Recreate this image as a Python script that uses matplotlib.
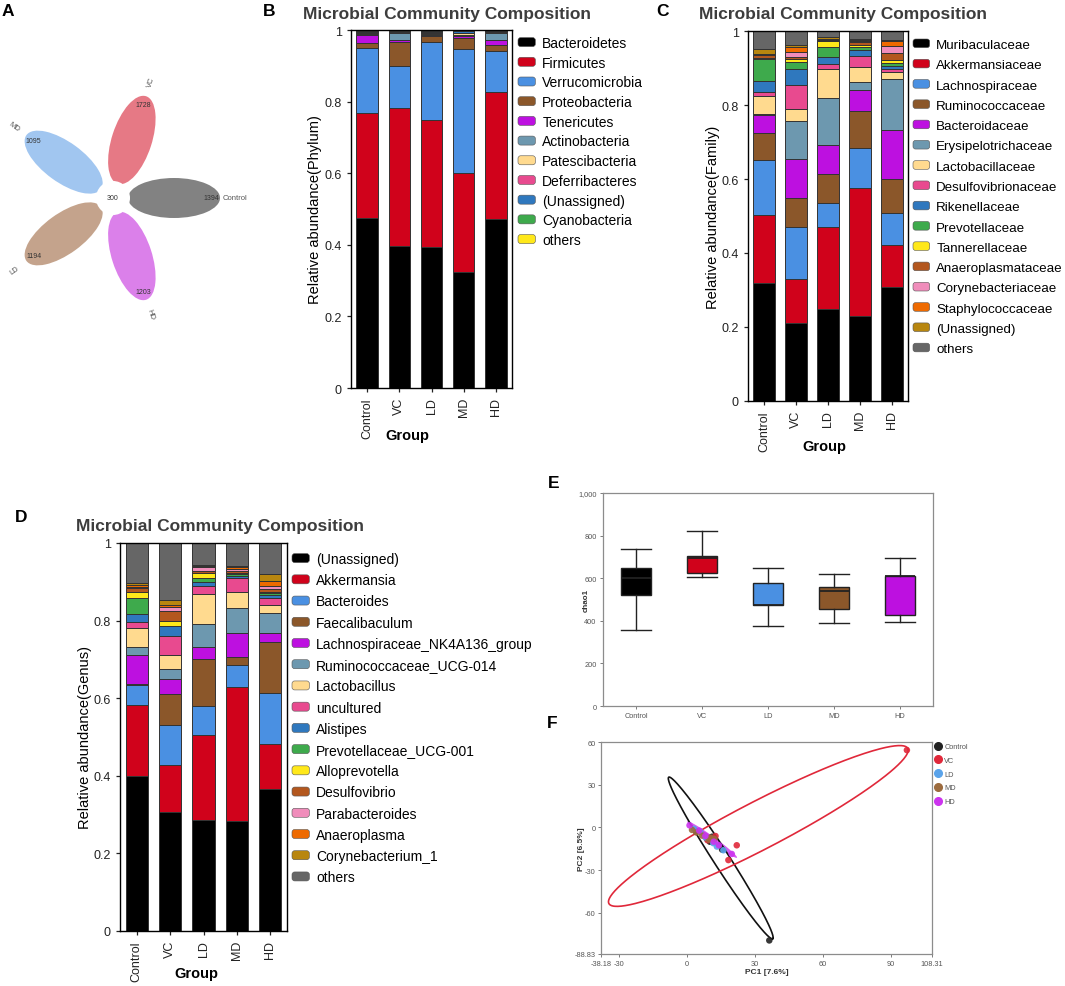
import numpy as np
import matplotlib
matplotlib.use('Agg')
import matplotlib.pyplot as plt
from matplotlib.patches import Ellipse, Circle, Patch, FancyBboxPatch
from matplotlib.lines import Line2D
from matplotlib.legend_handler import HandlerPatch

plt.rcParams['font.family'] = ['Liberation Sans', 'DejaVu Sans']

groups = ['Control', 'VC', 'LD', 'MD', 'HD']

# ---- A: flower diagram (unique OTUs per group, shared core) ----
venn_groups = ['Control', 'VC', 'MD', 'LD', 'HD']
venn_counts = [1394, 1728, 1095, 1194, 1203]
venn_core = 300
venn_colors = ['#4d4d4d', '#dc4152', '#7aaeea', '#ac7d5b', '#cc4ae2']

# ---- B: phylum level, rows = taxa, columns = groups ----
phylum_names = ['Bacteroidetes', 'Firmicutes', 'Verrucomicrobia', 'Proteobacteria',
                'Tenericutes', 'Actinobacteria', 'Patescibacteria', 'Deferribacteres',
                '(Unassigned)', 'Cyanobacteria', 'others']
phylum_abund = [
    [0.475, 0.397, 0.393, 0.323, 0.472],
    [0.293, 0.384, 0.357, 0.278, 0.354],
    [0.183, 0.119, 0.217, 0.346, 0.116],
    [0.012, 0.067, 0.016, 0.031, 0.016],
    [0.022, 0.004, 0.003, 0.005, 0.015],
    [0.004, 0.020, 0.004, 0.004, 0.020],
    [0.003, 0.002, 0.002, 0.004, 0.002],
    [0.002, 0.002, 0.002, 0.002, 0.001],
    [0.002, 0.002, 0.004, 0.003, 0.002],
    [0.001, 0.001, 0.001, 0.001, 0.001],
    [0.003, 0.002, 0.001, 0.003, 0.001],
]

# ---- C: family level ----
family_names = ['Muribaculaceae', 'Akkermansiaceae', 'Lachnospiraceae', 'Ruminococcaceae',
                'Bacteroidaceae', 'Erysipelotrichaceae', 'Lactobacillaceae',
                'Desulfovibrionaceae', 'Rikenellaceae', 'Prevotellaceae', 'Tannerellaceae',
                'Anaeroplasmataceae', 'Corynebacteriaceae', 'Staphylococcaceae',
                '(Unassigned)', 'others']
family_abund = [
    [0.319, 0.210, 0.250, 0.230, 0.309],
    [0.184, 0.119, 0.219, 0.346, 0.113],
    [0.149, 0.142, 0.066, 0.108, 0.085],
    [0.071, 0.077, 0.079, 0.099, 0.093],
    [0.049, 0.105, 0.078, 0.058, 0.133],
    [0.003, 0.103, 0.127, 0.021, 0.137],
    [0.048, 0.034, 0.077, 0.041, 0.018],
    [0.012, 0.063, 0.015, 0.029, 0.010],
    [0.030, 0.044, 0.020, 0.017, 0.008],
    [0.058, 0.018, 0.027, 0.009, 0.007],
    [0.003, 0.010, 0.014, 0.005, 0.008],
    [0.008, 0.004, 0.003, 0.008, 0.020],
    [0.002, 0.013, 0.002, 0.002, 0.018],
    [0.002, 0.015, 0.002, 0.003, 0.013],
    [0.014, 0.006, 0.004, 0.003, 0.004],
    [0.048, 0.037, 0.017, 0.021, 0.024],
]

# ---- D: genus level ----
genus_names = ['(Unassigned)', 'Akkermansia', 'Bacteroides', 'Faecalibaculum',
               'Lachnospiraceae_NK4A136_group', 'Ruminococcaceae_UCG-014', 'Lactobacillus',
               'uncultured', 'Alistipes', 'Prevotellaceae_UCG-001', 'Alloprevotella',
               'Desulfovibrio', 'Parabacteroides', 'Anaeroplasma', 'Corynebacterium_1', 'others']
genus_abund = [
    [0.399, 0.306, 0.287, 0.283, 0.365],
    [0.184, 0.121, 0.219, 0.345, 0.116],
    [0.050, 0.103, 0.075, 0.058, 0.132],
    [0.003, 0.081, 0.119, 0.021, 0.133],
    [0.076, 0.038, 0.031, 0.061, 0.022],
    [0.021, 0.027, 0.060, 0.065, 0.051],
    [0.048, 0.036, 0.078, 0.040, 0.020],
    [0.015, 0.049, 0.019, 0.036, 0.019],
    [0.021, 0.024, 0.012, 0.007, 0.008],
    [0.041, 0.002, 0.009, 0.003, 0.004],
    [0.017, 0.013, 0.013, 0.003, 0.004],
    [0.008, 0.026, 0.006, 0.006, 0.008],
    [0.004, 0.010, 0.011, 0.004, 0.006],
    [0.006, 0.004, 0.002, 0.007, 0.015],
    [0.004, 0.014, 0.002, 0.002, 0.017],
    [0.103, 0.146, 0.057, 0.059, 0.080],
]

palette = ['#000000', '#d0021b', '#4a90e2', '#8b572a', '#bd10e0', '#6d98af', '#ffda8f',
           '#e84a8f', '#2f78be', '#3eaa4c', '#ffe81a', '#b3571e', '#f08dbb', '#ee6a00',
           '#b8860f', '#666666']

# ---- E: chao1 box summary ----
chao1_min = [356, 604, 375, 391, 396]
chao1_q1 = [521, 625, 473, 457, 429]
chao1_med = [600, 694, 476, 540, 608]
chao1_q3 = [647, 705, 576, 560, 612]
chao1_max = [736, 823, 647, 622, 697]
box_colors = ['#000000', '#d0021b', '#4a90e2', '#8b572a', '#bd10e0']

# ---- F: PCA scores ----
pca_x = {
    'Control': [36.3, 15.4, 8.7, 11.0, 4.0, 10.0],
    'VC': [97.2, 21.9, 18.2, 10.1, 12.5, 9.0],
    'LD': [13.1, 5.7, 11.5, 3.0, 8.0, 16.0],
    'MD': [2.1, 6.5, 10.3, 9.5, 4.0, 12.0],
    'HD': [5.3, 11.7, 19.7, 1.0, 8.0, 14.0],
}
pca_y = {
    'Control': [-79.3, -15.5, -8.0, -6.5, -3.0, -10.0],
    'VC': [54.3, -12.5, -22.9, -7.6, -6.0, -9.0],
    'LD': [-13.4, -2.8, -11.0, -1.0, -7.0, -16.0],
    'MD': [-1.7, -5.7, -7.2, -8.5, -3.5, -8.0],
    'HD': [-2.2, -10.0, -18.6, 1.5, -6.0, -12.5],
}
# confidence ellipses: centre, major half-axis, minor half-axis (data units)
pca_ellipses = {
    'Control': [(14.8, -21.4), (23.0, -56.7), (2.96, 3.07)],
    'VC': [(31.45, 1.05), (66.15, 54.45), (4.79, -14.87)],
    'LD': [(8.5, -6.5), (7.5, -8.5), (0.6, 1.3)],
    'MD': [(7.0, -4.0), (6.0, -5.0), (0.5, 1.0)],
    'HD': [(11.0, -8.5), (11.0, -12.7), (0.78, 1.71)],
}
pca_colors = {'Control': '#222222', 'VC': '#e0283a', 'LD': '#5aa3ea', 'MD': '#9c6b3e', 'HD': '#cc33ee'}

W, H = 1065, 987
fig = plt.figure(figsize=(W / 100, H / 100), dpi=100)


def box(l, t, r, b):
    return [l / W, 1 - b / H, (r - l) / W, (b - t) / H]


class RoundHandler(HandlerPatch):
    def create_artists(self, legend, orig_handle, xdescent, ydescent, width, height, fontsize, trans):
        pad = height * 0.3
        p = FancyBboxPatch((-xdescent + pad, -ydescent + pad), width - 2 * pad, height - 2 * pad,
                           boxstyle='round,pad=%f' % pad, facecolor=orig_handle.get_facecolor(),
                           edgecolor='#555555', linewidth=0.4, transform=trans)
        return [p]


def stacked(axpos, data, names, ylabel, ylab_x, title_xy, leg_xy, spacing, xlab_xy, legsize=10):
    ax = fig.add_axes(box(*axpos))
    x = np.arange(len(groups))
    bottom = np.zeros(len(groups))
    for row, c in zip(data, palette):
        ax.bar(x, row, 0.67, bottom=bottom, color=c, edgecolor='#333333', linewidth=0.7)
        bottom += np.array(row)
    ax.set_xlim(-0.5, 4.5)
    ax.set_ylim(0, 1)
    ax.set_yticks([0, 0.2, 0.4, 0.6, 0.8, 1])
    ax.set_yticklabels(['0', '0.2', '0.4', '0.6', '0.8', '1'])
    ax.set_xticks(x)
    ax.set_xticklabels(groups, rotation=90)
    ax.tick_params(labelsize=9, length=3, width=0.9, colors='#222222')
    for s in ax.spines.values():
        s.set_linewidth(1.0)
    ax.set_ylabel(ylabel, fontsize=10.5)
    ax.yaxis.set_label_coords(ylab_x, 0.5)
    ax.set_xlabel('Group', fontsize=10.5, fontweight='bold')
    ax.xaxis.set_label_coords(*xlab_xy)
    fig.text(title_xy[0] / W, 1 - title_xy[1] / H, 'Microbial Community Composition',
             fontsize=12.5, fontweight='bold', color='#3d3d3d', ha='center', va='center')
    handles = [Patch(facecolor=c) for c in palette[:len(names)]]
    ax.legend(handles, names, handler_map={Patch: RoundHandler()}, loc='upper left',
              bbox_to_anchor=(leg_xy[0] / W, 1 - leg_xy[1] / H), bbox_transform=fig.transFigure,
              frameon=False, fontsize=legsize, handlelength=1.25, handleheight=0.62,
              handletextpad=0.5, labelspacing=spacing, borderpad=0, borderaxespad=0)
    return ax


stacked((351, 31, 512, 389), phylum_abund, phylum_names, 'Relative abundance(Phylum)', -0.18,
        (447, 15), (518, 37), 0.41, (0.35, -0.113))
stacked((748, 32, 908, 402), family_abund, family_names, 'Relative abundance(Family)', -0.175,
        (843, 15), (913, 40), 0.62, (0.48, -0.102), legsize=9.6)
stacked((120, 544, 287, 932), genus_abund, genus_names, 'Relative abundance(Genus)', -0.168,
        (220, 527), (292, 553), 0.52, (0.46, -0.09))

# ---- A ----
axa = fig.add_axes(box(0, 0, 260, 340))
axa.set_xlim(0, 260)
axa.set_ylim(340, 0)
axa.axis('off')
cx, cy = 113, 199
for i, (g, n, c) in enumerate(zip(venn_groups, venn_counts, venn_colors)):
    th = np.deg2rad(72 * i)
    axa.add_patch(Ellipse((cx + 61 * np.cos(th), cy - 61 * np.sin(th)), 92, 40,
                          angle=-72 * i, facecolor=c, alpha=0.7, edgecolor='none'))
    axa.text(cx + 98 * np.cos(th), cy - 98 * np.sin(th), str(n), fontsize=5, color='#333333',
             ha='center', va='center')
    rot = 72 * i
    if rot > 90:
        rot -= 180
    if rot > 90:
        rot -= 180
    axa.text(cx + 122 * np.cos(th), cy - 122 * np.sin(th), g, fontsize=5.5, color='#555555',
             ha='center', va='center', rotation=rot)
axa.add_patch(Circle((cx, cy), 17, facecolor='white', edgecolor='none'))
axa.text(cx, cy, str(venn_core), fontsize=5, color='#333333', ha='center', va='center')

# ---- E ----
axe = fig.add_axes(box(603, 494, 933, 707))
stats = []
for i, g in enumerate(groups):
    stats.append({'label': g, 'whislo': chao1_min[i], 'q1': chao1_q1[i], 'med': chao1_med[i],
                  'q3': chao1_q3[i], 'whishi': chao1_max[i], 'fliers': []})
bp = axe.bxp(stats, positions=range(5), widths=0.44, capwidths=0.44, patch_artist=True,
             showfliers=False,
             boxprops=dict(edgecolor='#222222', linewidth=1.0),
             medianprops=dict(color='#222222', linewidth=1.3),
             whiskerprops=dict(color='#222222', linewidth=1.0),
             capprops=dict(color='#222222', linewidth=1.0))
for p, c in zip(bp['boxes'], box_colors):
    p.set_facecolor(c)
axe.set_xlim(-0.5, 4.5)
axe.set_ylim(0, 1000)
axe.set_yticks([0, 200, 400, 600, 800, 1000])
axe.set_yticklabels(['0', '200', '400', '600', '800', '1,000'])
axe.tick_params(labelsize=5.3, length=2, width=0.6, pad=2.5, colors='#666666', labelcolor='#555555')
for s in axe.spines.values():
    s.set_color('#8c8c8c')
    s.set_linewidth(0.9)
axe.set_ylabel('chao1', fontsize=5.8, fontweight='bold', color='#333333')
axe.yaxis.set_label_coords(-0.04, 0.5)

# ---- F ----
axf = fig.add_axes(box(601, 743, 932, 955))
t = np.linspace(0, 2 * np.pi, 300)
for g in groups:
    (ecx, ecy), (ax_, ay_), (bx_, by_) = pca_ellipses[g]
    ex = ecx + ax_ * np.cos(t) + bx_ * np.sin(t)
    ey = ecy + ay_ * np.cos(t) + by_ * np.sin(t)
    if g in ('Control', 'VC'):
        axf.plot(ex, ey, color='#e0283a' if g == 'VC' else '#111111', linewidth=1.2)
    else:
        axf.fill(ex, ey, color=pca_colors[g], alpha=0.8, linewidth=0)
for g in groups:
    axf.scatter(pca_x[g], pca_y[g], s=22, color=pca_colors[g], alpha=0.9, edgecolors='none',
                zorder=3)
axf.set_xlim(-38.18, 108.31)
axf.set_ylim(-88.83, 60)
axf.set_xticks([-38.18, -30, 0, 30, 60, 90, 108.31])
axf.set_xticklabels(['-38.18', '-30', '0', '30', '60', '90', '108.31'])
axf.set_yticks([-88.83, -60, -30, 0, 30, 60])
axf.set_yticklabels(['-88.83', '-60', '-30', '0', '30', '60'])
axf.tick_params(labelsize=5.3, length=2, width=0.6, pad=2, colors='#666666', labelcolor='#555555')
for s in axf.spines.values():
    s.set_color('#8c8c8c')
    s.set_linewidth(0.9)
axf.set_xlabel('PC1 [7.6%]', fontsize=6, fontweight='bold', color='#333333')
axf.xaxis.set_label_coords(0.5, -0.068)
axf.set_ylabel('PC2 [6.5%]', fontsize=6, fontweight='bold', color='#333333')
axf.yaxis.set_label_coords(-0.048, 0.5)
leg_h = [Line2D([], [], marker='o', linestyle='none', markersize=5.5, color=pca_colors[g])
         for g in groups]
axf.legend(leg_h, groups, loc='upper left', bbox_to_anchor=(934 / W, 1 - 744 / H),
           bbox_transform=fig.transFigure, frameon=False, fontsize=5.3, labelcolor='#555555',
           handlelength=1.0, handletextpad=0.4, labelspacing=0.9, borderpad=0, borderaxespad=0)

# panel letters
for lab, px, py in [('A', 2, 11), ('B', 263, 11), ('C', 656, 11), ('D', 15, 517),
                    ('E', 548, 484), ('F', 547, 724)]:
    fig.text(px / W, 1 - py / H, lab, fontsize=12.5, fontweight='bold', ha='left', va='center')

fig.savefig('out.png', dpi=100)
